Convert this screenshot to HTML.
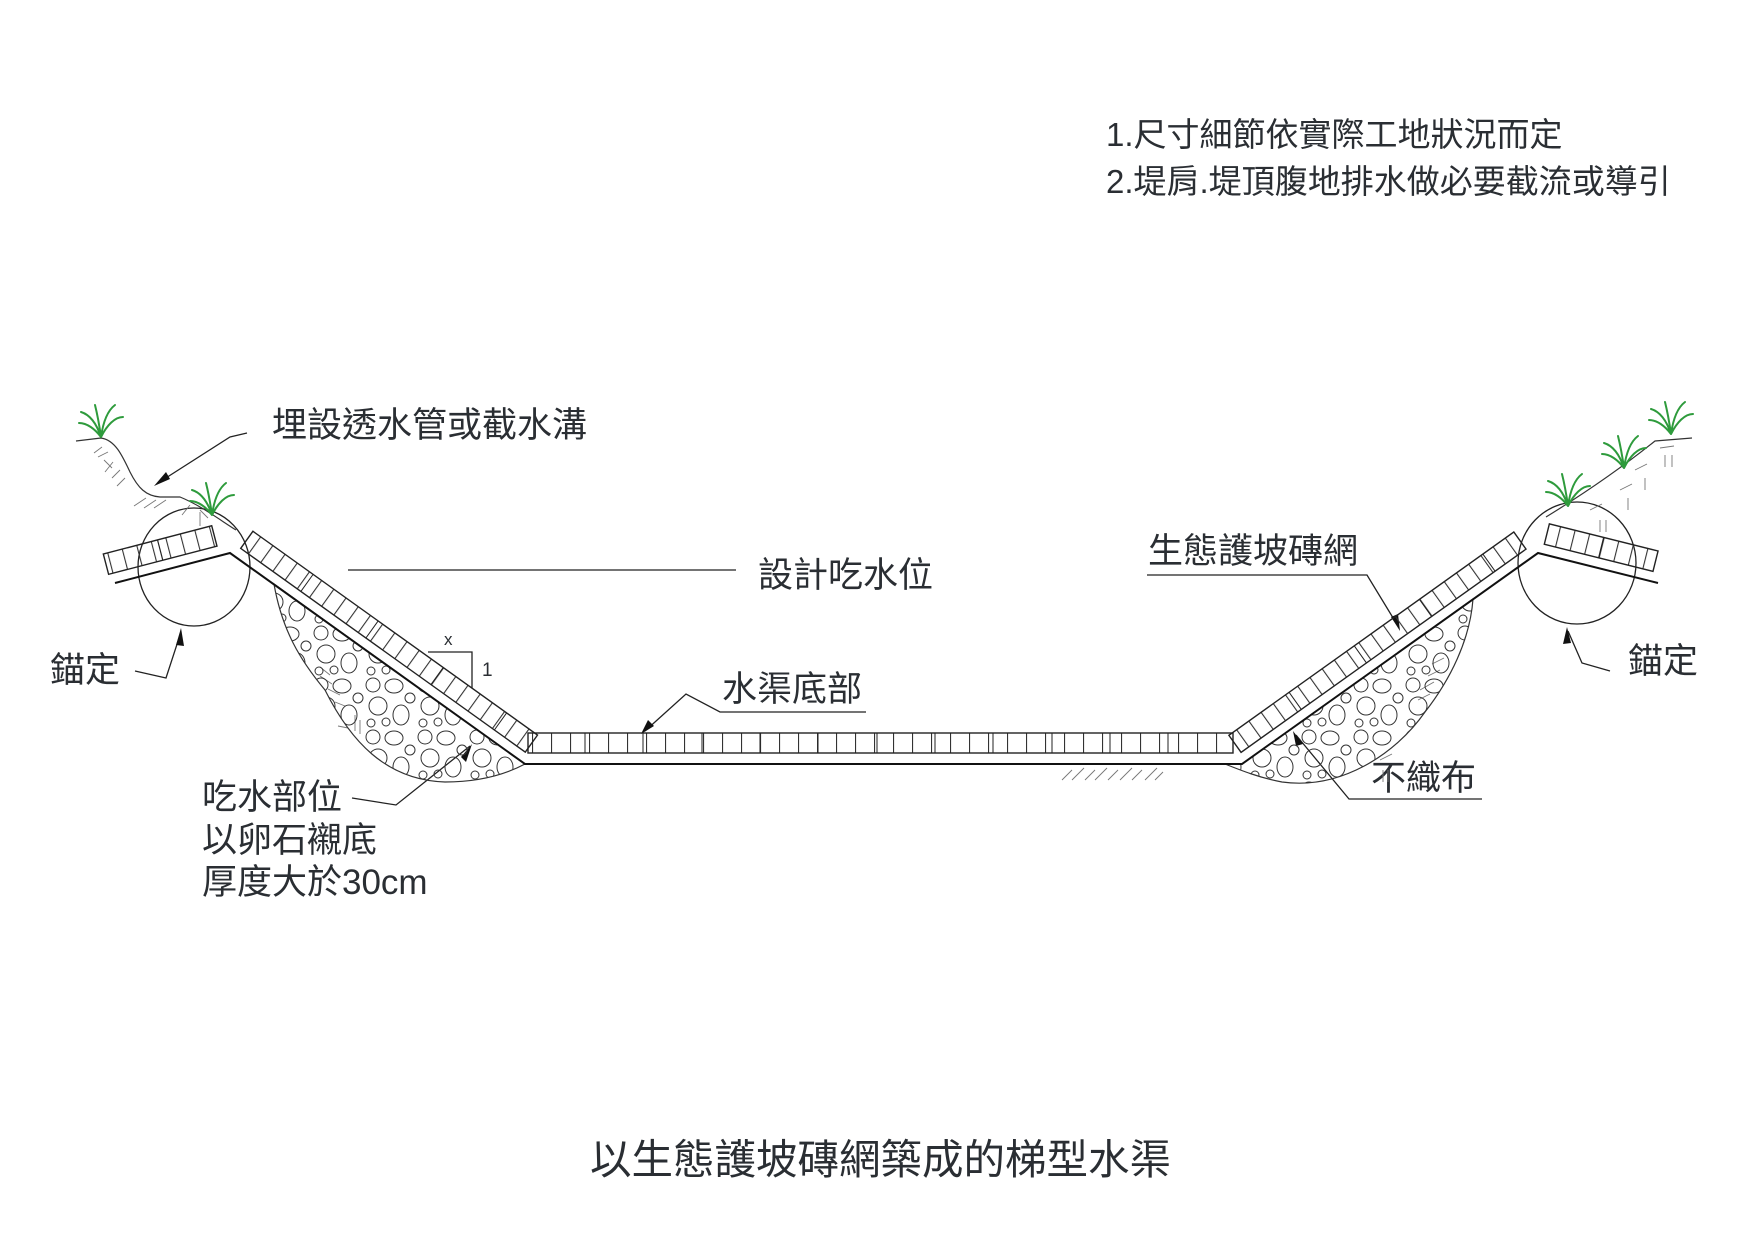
<!DOCTYPE html>
<html><head><meta charset="utf-8">
<style>
html,body{margin:0;padding:0;background:#fff;}
svg{display:block;}
text{font-family:"Liberation Sans","Noto Sans CJK TC",sans-serif;fill:#2a2e33;}
</style></head>
<body>
<svg width="1754" height="1240" viewBox="0 0 1754 1240" xmlns="http://www.w3.org/2000/svg">
<defs>
  <pattern id="tiles" x="0" y="0" width="15" height="40" patternUnits="userSpaceOnUse">
    <line x1="0.5" y1="0" x2="0.5" y2="40" stroke="#333" stroke-width="1.2"/>
  </pattern>
  <pattern id="ftiles" x="0" y="0" width="19" height="40" patternUnits="userSpaceOnUse">
    <line x1="0.5" y1="0" x2="0.5" y2="40" stroke="#333" stroke-width="1.2"/>
  </pattern>
  <pattern id="stones" x="0" y="0" width="52" height="52" patternUnits="userSpaceOnUse">
    <g fill="none" stroke="#333" stroke-width="1">
      <circle cx="9" cy="9" r="7"/>
      <ellipse cx="30" cy="10" rx="9" ry="7"/>
      <circle cx="46" cy="22" r="5"/>
      <circle cx="14" cy="30" r="9"/>
      <ellipse cx="37" cy="39" rx="8" ry="10"/>
      <circle cx="7" cy="47" r="4"/>
      <circle cx="22" cy="46" r="4"/>
    </g>
  </pattern>
</defs>

<!-- notes -->
<text x="1106" y="146" font-size="33">1.尺寸細節依實際工地狀況而定</text>
<text x="1106" y="193" font-size="33">2.堤肩.堤頂腹地排水做必要截流或導引</text>

<!-- title -->
<text x="590" y="1174" font-size="41.5">以生態護坡磚網築成的梯型水渠</text>

<!-- labels -->
<text x="272" y="437" font-size="35">埋設透水管或截水溝</text>
<text x="758" y="587" font-size="35">設計吃水位</text>
<text x="1148" y="563" font-size="35">生態護坡磚網</text>
<text x="722" y="701" font-size="35">水渠底部</text>
<text x="1371" y="790" font-size="35">不織布</text>
<text x="50" y="682" font-size="35">錨定</text>
<text x="1628" y="673" font-size="35">錨定</text>
<text x="202" y="809" font-size="35">吃水部位</text>
<text x="202" y="852" font-size="35">以卵石襯底</text>
<text x="202" y="894" font-size="35">厚度大於30cm</text>
<text x="444" y="645" font-size="17">x</text>
<text x="482" y="676" font-size="19">1</text>

<g fill="none" stroke="#222" stroke-width="1.3">
  <line x1="348" y1="570" x2="736" y2="570"/>
  <polyline points="428,652 472,652 472,688"/>
  <polyline points="247,433 230,437 158,483"/>
  <polyline points="1147,575 1367,575 1398,626"/>
  <polyline points="866,712 720,712 686,694 645,731"/>
  <polyline points="1482,799 1349,799 1296,735"/>
  <polyline points="352,798 396,805 470,746"/>
  <polyline points="135,671 166,678 181,632"/>
  <polyline points="1610,671 1582,663 1568,631"/>
  <ellipse cx="194" cy="567" rx="56" ry="59"/>
  <ellipse cx="1577" cy="563" rx="59" ry="61"/>
</g>
<g fill="#111">
  <polygon points="154,486 166,472 170,479"/>
  <polygon points="1400,631 1391,617 1398,614"/>
  <polygon points="641,734 648,720 654,726"/>
  <polygon points="1293,731 1303,744 1296,746"/>
  <polygon points="472,744 461,757 466,762"/>
  <polygon points="181,628 176,645 184,646"/>
  <polygon points="1567,627 1563,644 1571,643"/>
</g>

<path d="M76,441 L101,438 C115,440 122,455 130,472 C138,488 146,496 160,497 L180,497 C200,505 220,520 236,530" fill="none" stroke="#333" stroke-width="1.2"/>
<path d="M1546,517 C1590,490 1625,465 1655,441 L1692,438" fill="none" stroke="#333" stroke-width="1.2"/>

<g stroke="#777" stroke-width="0.9" fill="none">
  <path d="M102,447 l-8,6 M108,452 l-10,5 M104,460 l8,8 M113,462 l-8,10 M120,470 l-8,8 M125,478 l-8,8 M146,498 l-12,8 M156,500 l-12,8 M166,500 l-12,8 M190,505 l-8,10 M200,510 l8,8 M200,512 v14"/>
  <path d="M330,675 l-10,-8 M332,684 l-12,-8 M340,695 l-12,-6 M345,706 l-10,-4 M355,715 v16 M360,720 v14 M348,728 l-10,-2"/>
  <path d="M1062,780 l10,-10 M1072,780 l12,-12 M1085,780 l10,-10 M1095,780 l12,-12 M1108,780 l10,-10 M1120,780 l12,-12 M1132,780 l10,-10 M1145,780 l12,-12 M1155,780 l8,-8"/>
  <path d="M1418,700 l12,-6 M1420,690 l14,-8 M1428,676 l12,-6 M1432,664 l12,-6 M1380,760 l12,-6 M1383,770 v12 M1388,770 v12"/>
  <path d="M1590,510 l12,-6 M1600,520 v12 M1606,520 v12 M1620,490 l12,-6 M1628,498 v12 M1635,470 l12,-6 M1645,478 v12 M1660,448 l14,-2 M1665,455 v12 M1672,455 v12"/>
</g>

<path d="M274,584 C282,630 300,660 325,690 C350,740 385,780 445,782 C485,782 510,772 525,764 Z" fill="url(#stones)" stroke="#333" stroke-width="1.2"/>
<path d="M1473,599 C1470,640 1450,680 1425,712 C1395,755 1340,790 1282,782 C1260,778 1240,770 1225,764 L1242,764 Z" fill="url(#stones)" stroke="#333" stroke-width="1.2"/>

<polyline points="115,583 230,553 525,764 1242,764 1538,553 1658,583" fill="none" stroke="#111" stroke-width="2"/>

<rect x="528" y="733" width="705" height="20" fill="url(#ftiles)" stroke="#222" stroke-width="1.4"/>
<g stroke="#222" stroke-width="1" fill="none">
  <path d="M585,733 v20 M643,733 v20 M702,733 v20 M760,733 v20 M818,733 v20 M877,733 v20 M935,733 v20 M993,733 v20 M1052,733 v20 M1110,733 v20 M1168,733 v20"/>
</g>

<g transform="translate(230,553) rotate(35.6)">
  <rect x="6" y="-31" width="350" height="21" fill="url(#tiles)" stroke="#222" stroke-width="1.4"/>
  <path d="M80,-31 v21 M160,-31 v21 M240,-31 v21 M318,-31 v21" stroke="#222" stroke-width="1"/>
</g>
<g transform="translate(115,583) rotate(-14.6)">
  <rect x="-4" y="-31" width="112" height="21" fill="url(#tiles)" stroke="#222" stroke-width="1.4"/>
  <path d="M52,-31 v21" stroke="#222" stroke-width="1.2"/>
</g>
<g transform="translate(1242,764) rotate(-35.5)">
  <rect x="6" y="-31" width="350" height="21" fill="url(#tiles)" stroke="#222" stroke-width="1.4"/>
  <path d="M80,-31 v21 M160,-31 v21 M240,-31 v21 M318,-31 v21" stroke="#222" stroke-width="1"/>
</g>
<g transform="translate(1538,553) rotate(14)">
  <rect x="4" y="-31" width="112" height="21" fill="url(#tiles)" stroke="#222" stroke-width="1.4"/>
  <path d="M60,-31 v21" stroke="#222" stroke-width="1.2"/>
</g>

<g fill="none" stroke="#2e9b3c" stroke-width="2" stroke-linecap="round">
  <g transform="translate(101,437)"><path d="M0,0 C-4,-12 -10,-22 -20,-25 M0,0 C-2,-14 -4,-24 -6,-32 M0,0 C2,-14 6,-26 14,-32 M0,0 C6,-12 14,-20 22,-20 M0,0 C-6,-8 -14,-14 -22,-14"/></g>
  <g transform="translate(212,515)"><path d="M0,0 C-4,-12 -10,-22 -20,-25 M0,0 C-2,-14 -4,-24 -6,-32 M0,0 C2,-14 6,-26 14,-32 M0,0 C6,-12 14,-20 22,-20 M0,0 C-6,-8 -14,-14 -22,-14"/></g>
  <g transform="translate(1568,506)"><path d="M0,0 C-4,-12 -10,-22 -20,-25 M0,0 C-2,-14 -4,-24 -6,-32 M0,0 C2,-14 6,-26 14,-32 M0,0 C6,-12 14,-20 22,-20 M0,0 C-6,-8 -14,-14 -22,-14"/></g>
  <g transform="translate(1624,468)"><path d="M0,0 C-4,-12 -10,-22 -20,-25 M0,0 C-2,-14 -4,-24 -6,-32 M0,0 C2,-14 6,-26 14,-32 M0,0 C6,-12 14,-20 22,-20 M0,0 C-6,-8 -14,-14 -22,-14"/></g>
  <g transform="translate(1671,434)"><path d="M0,0 C-4,-12 -10,-22 -20,-25 M0,0 C-2,-14 -4,-24 -6,-32 M0,0 C2,-14 6,-26 14,-32 M0,0 C6,-12 14,-20 22,-20 M0,0 C-6,-8 -14,-14 -22,-14"/></g>
</g>
</svg>
</body></html>
